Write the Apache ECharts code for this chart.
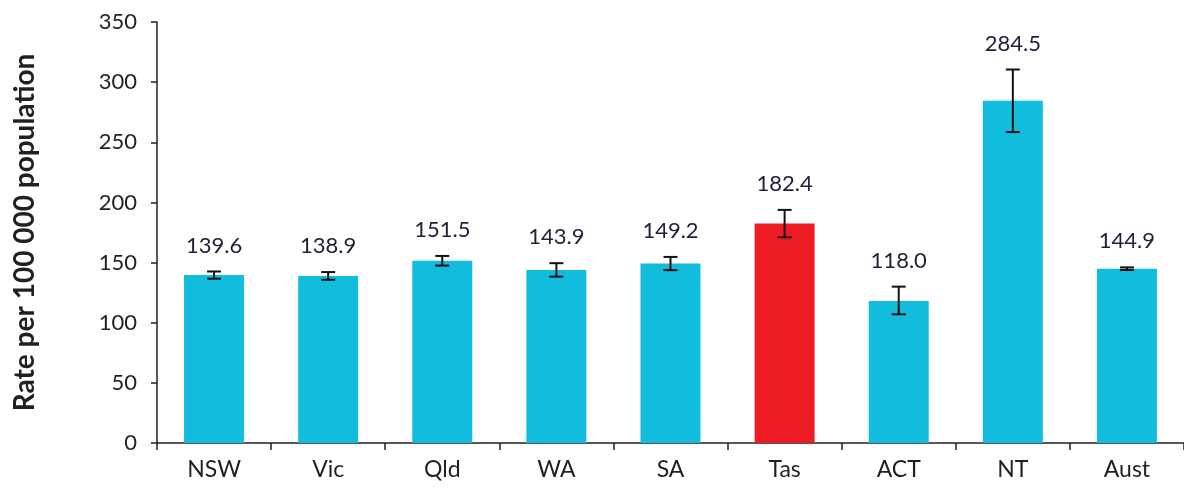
<!DOCTYPE html>
<html>
<head>
<meta charset="utf-8">
<script src="https://cdn.jsdelivr.net/npm/echarts@6/dist/echarts.min.js"></script>
<style>
  html, body { margin: 0; padding: 0; background: #fff; }
  #chart { width: 1184px; height: 490px; }
</style>
</head>
<body>
<div id="chart"></div>
<script>
// 各州数据
const categories = ['NSW', 'Vic', 'Qld', 'WA', 'SA', 'Tas', 'ACT', 'NT', 'Aust'];
const rates = [139.6, 138.9, 151.5, 143.9, 149.2, 182.4, 118.0, 284.5, 144.9];
const lowCI = [136.6, 135.7, 147.5, 138.3, 143.7, 171.0, 107.0, 258.5, 143.8];
const highCI = [142.6, 142.1, 155.5, 149.5, 154.7, 193.8, 130.0, 310.5, 146.0];
const yTicks = [0, 50, 100, 150, 200, 250, 300, 350];

const BLUE = '#12bcdd';
const RED = '#ed1c24';
const INK = '#231f20';
const FONT = 'Lato, "Open Sans", sans-serif';

const chart = echarts.init(document.getElementById('chart'), null, { renderer: 'canvas' });

chart.setOption({
    animation: false,
    textStyle: { fontFamily: FONT },
    grid: { left: 157, top: 22, width: 1038, height: 421, containLabel: false },
    xAxis: {
        type: 'category',
        data: categories,
        axisLine: { lineStyle: { color: INK, width: 1.5 } },
        axisTick: { show: true, length: 7, lineStyle: { color: INK, width: 1.5 } },
        axisLabel: { color: INK, fontSize: 23, margin: 15, fontFamily: FONT },
    },
    yAxis: {
        type: 'value',
        min: yTicks[0],
        max: yTicks[yTicks.length - 1],
        interval: 50,
        name: 'Rate per 100 000 population',
        nameLocation: 'middle',
        nameGap: 118,
        nameTextStyle: { color: INK, fontSize: 28, fontWeight: 'bold', fontFamily: FONT },
        axisLine: { show: true, lineStyle: { color: INK, width: 1.5 } },
        axisTick: { show: true, length: 6, lineStyle: { color: INK, width: 1.5 } },
        axisLabel: { color: INK, fontSize: 22, margin: 20, fontFamily: FONT },
        splitLine: { show: false },
    },
    series: [
        {
            type: 'bar',
            barWidth: 60,
            data: rates.map((v, i) => ({
                value: v,
                itemStyle: { color: categories[i] === 'Tas' ? RED : BLUE },
            })),
            z: 2,
        },
        {
            // 误差线 + 数值标签
            type: 'custom',
            data: categories.map((c, i) => [i, lowCI[i], highCI[i], rates[i]]),
            z: 5,
            renderItem: function (params, api) {
                const idx = api.value(0);
                const lo = api.coord([idx, api.value(1)]);
                const hi = api.coord([idx, api.value(2)]);
                const half = 7;
                const style = { stroke: '#111', lineWidth: 2 };
                return {
                    type: 'group',
                    children: [
                        { type: 'line', shape: { x1: hi[0], y1: hi[1], x2: lo[0], y2: lo[1] }, style },
                        { type: 'line', shape: { x1: hi[0] - half, y1: hi[1], x2: hi[0] + half, y2: hi[1] }, style },
                        { type: 'line', shape: { x1: lo[0] - half, y1: lo[1], x2: lo[0] + half, y2: lo[1] }, style },
                        {
                            type: 'text',
                            style: {
                                text: api.value(3).toFixed(1),
                                x: hi[0],
                                y: hi[1] - 15,
                                align: 'center',
                                verticalAlign: 'bottom',
                                fill: '#1f1f3a',
                                font: '22px ' + FONT,
                            },
                        },
                    ],
                };
            },
        },
    ],
});
</script>
</body>
</html>
